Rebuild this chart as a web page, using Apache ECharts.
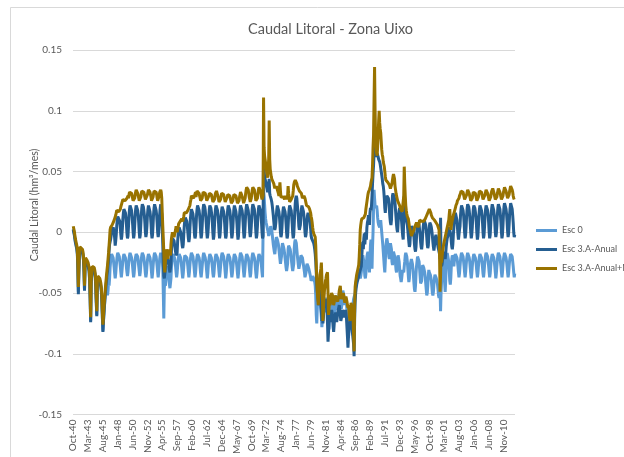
<!DOCTYPE html>
<html>
<head>
<meta charset="utf-8">
<script src="https://cdn.jsdelivr.net/npm/echarts@6/dist/echarts.min.js"></script>
<style>
  html, body { margin: 0; padding: 0; background: #fff; }
  #chart { width: 624px; height: 457px; }
</style>
</head>
<body>
<div id="chart"></div>
<script>
// monthly values from Oct-40 to Sep-12, in thousandths of hm3/mes (one hydrological year per line)
var esc0Milli = [
  3, 2, -1, -4, -7, -9, -11, -13, -17, -29, -49, -31,
  -18, -14, -13, -14, -15, -15, -16, -18, -22, -31, -47, -28,
  -23, -24, -24, -25, -26, -27, -28, -31, -39, -53, -73, -42,
  -34, -30, -29, -29, -30, -31, -33, -36, -44, -57, -68, -45,
  -38, -37, -37, -38, -40, -42, -44, -48, -57, -70, -81, -73,
  -67, -61, -55, -50, -46, -44, -46, -52, -48, -40, -44, -38,
  -29, -24, -20, -18, -18, -19, -21, -25, -29, -34, -38, -34,
  -28, -23, -19, -17, -17, -18, -20, -24, -28, -33, -37, -33,
  -28, -23, -20, -18, -18, -19, -21, -24, -29, -33, -36, -33,
  -27, -22, -19, -17, -17, -18, -21, -24, -28, -33, -37, -34,
  -28, -23, -20, -18, -17, -18, -20, -24, -28, -32, -36, -33,
  -27, -22, -19, -17, -17, -19, -21, -25, -29, -34, -37, -34,
  -28, -23, -20, -18, -18, -19, -21, -24, -28, -33, -38, -34,
  -28, -23, -19, -17, -17, -18, -20, -24, -28, -33, -37, -33,
  -27, -22, -19, -17, -17, -18, -21, -30, -50, -71, -46, -40,
  -44, -40, -34, -30, -28, -30, -33, -38, -43, -46, -42, -38,
  -29, -24, -20, -18, -18, -19, -21, -24, -28, -33, -37, -34,
  -28, -23, -20, -18, -18, -19, -21, -25, -29, -34, -38, -34,
  -28, -23, -19, -18, -18, -19, -21, -24, -28, -33, -37, -33,
  -27, -22, -19, -17, -17, -18, -20, -24, -28, -33, -37, -34,
  -28, -23, -20, -18, -18, -19, -21, -24, -29, -34, -37, -33,
  -28, -23, -19, -17, -17, -18, -21, -24, -28, -33, -38, -34,
  -27, -23, -20, -18, -18, -19, -21, -25, -29, -34, -37, -34,
  -28, -23, -20, -18, -18, -19, -21, -24, -28, -33, -37, -33,
  -28, -22, -19, -17, -17, -18, -20, -24, -28, -33, -38, -34,
  -28, -23, -20, -18, -18, -19, -21, -24, -28, -33, -37, -34,
  -29, -24, -20, -18, -18, -19, -21, -25, -29, -34, -38, -34,
  -28, -23, -19, -17, -17, -18, -20, -24, -28, -33, -37, -33,
  -28, -23, -20, -18, -18, -19, -21, -24, -28, -33, -37, -34,
  -27, -22, -19, -17, -17, -18, -21, -24, -29, -34, -38, -34,
  -28, -23, -20, -18, -18, -19, -21, -24, -28, -33, -37, -36,
  35, 30, 23, 16, 11, 8, 6, 4, 2, 0, -3, -2,
  -4, 2, 5, 4, 2, -2, -6, -10, -13, -16, -18, -14,
  -8, -4, -5, -6, -8, -10, -14, -18, -22, -26, -27, -20,
  -12, -9, -10, -12, -14, -17, -21, -25, -29, -32, -33, -26,
  -14, -11, -11, -12, -14, -17, -21, -25, -29, -32, -33, -26,
  -13, -8, -6, -5, -9, -14, -19, -23, -27, -30, -31, -26,
  -22, -19, -18, -19, -21, -24, -27, -30, -33, -37, -38, -33,
  -28, -26, -27, -28, -29, -31, -33, -35, -37, -40, -41, -38,
  -36, -37, -38, -39, -41, -44, -52, -68, -75, -62, -50, -47,
  -52, -56, -58, -60, -64, -70, -78, -72, -62, -58, -62, -66,
  -60, -56, -54, -55, -58, -62, -68, -74, -80, -72, -64, -60,
  -56, -54, -55, -58, -64, -70, -71, -66, -58, -54, -52, -56,
  -60, -64, -62, -56, -52, -50, -53, -58, -63, -60, -54, -48,
  -48, -52, -56, -60, -56, -54, -58, -64, -72, -84, -87, -76,
  -66, -64, -68, -72, -73, -68, -62, -58, -55, -54, -54, -50,
  -45, -41, -39, -37, -36, -34, -33, -34, -36, -38, -36, -33,
  -28, -22, -19, -20, -24, -30, -36, -38, -34, -26, -20, -18,
  -16, -20, -28, -33, -22, -10, -6, -18, -30, -12, 0, 20,
  35, 28, 22, 20, 21, 22, 18, 12, 8, 6, 5, 4,
  8, 10, 5, 0, -5, -10, -16, -22, -28, -33, -24, -12,
  -8, -5, -6, -10, -15, -20, -22, -16, -9, -8, -14, -24,
  -27, -20, -16, -15, -17, -21, -26, -31, -33, -28, -22, -19,
  -20, -24, -30, -36, -38, -41, -38, -34, -31, -30, -33, -28,
  -24, -19, -17, -18, -20, -24, -30, -36, -41, -38, -30, -26,
  -24, -22, -23, -26, -30, -36, -42, -47, -49, -44, -34, -28,
  -24, -20, -19, -20, -24, -30, -36, -42, -43, -40, -32, -27,
  -28, -29, -30, -33, -37, -42, -47, -52, -50, -44, -36, -31,
  -33, -34, -35, -37, -40, -45, -50, -52, -49, -43, -38, -35,
  -36, -37, -38, -40, -43, -47, -52, -54, -50, -46, -65, -49,
  -40, -30, -22, -19, -24, -34, -42, -49, -40, -28, -20, -17,
  -16, -18, -24, -32, -40, -43, -38, -28, -22, -19, -18, -21,
  -28, -23, -20, -18, -18, -19, -21, -24, -28, -33, -37, -34,
  -28, -23, -19, -17, -17, -18, -20, -24, -28, -33, -37, -33,
  -27, -22, -19, -17, -17, -18, -21, -24, -29, -34, -38, -34,
  -28, -23, -20, -18, -18, -19, -21, -24, -28, -33, -37, -34,
  -28, -23, -20, -18, -18, -19, -21, -25, -29, -34, -37, -33,
  -27, -22, -19, -17, -17, -18, -20, -24, -28, -33, -37, -34,
  -28, -23, -20, -18, -18, -19, -21, -24, -28, -33, -38, -34,
  -28, -23, -19, -17, -17, -18, -20, -24, -28, -33, -37, -33,
  -27, -22, -19, -17, -17, -18, -21, -24, -28, -33, -37, -34,
  -28, -23, -20, -18, -17, -18, -20, -24, -28, -33, -37, -34
];

var esc3aMilli = [
  2, 1, -2, -5, -8, -10, -12, -14, -18, -30, -51, -32,
  -19, -15, -14, -15, -16, -16, -17, -19, -23, -32, -48, -29,
  -24, -25, -25, -26, -27, -28, -29, -32, -40, -54, -74, -43,
  -35, -31, -30, -30, -31, -32, -34, -37, -45, -58, -69, -46,
  -39, -38, -38, -39, -41, -43, -45, -49, -58, -71, -82, -74,
  -66, -60, -54, -49, -44, -40, -36, -32, -27, -22, -16, -10,
  -9, -6, -3, 0, 2, 3, 4, 3, 0, -5, -11, -7,
  -2, 5, 10, 13, 14, 14, 12, 9, 4, -2, -6, -3,
  3, 11, 16, 19, 20, 19, 16, 12, 6, -1, -5, -3,
  5, 14, 19, 22, 22, 21, 18, 13, 7, 0, -5, -2,
  5, 13, 19, 22, 23, 22, 18, 14, 8, 0, -5, -2,
  6, 14, 20, 23, 23, 21, 18, 14, 8, 0, -4, -1,
  5, 14, 19, 22, 22, 21, 17, 13, 7, -1, -5, -2,
  6, 15, 20, 23, 24, 22, 18, 14, 8, 0, -4, -1,
  6, 15, 20, 23, 22, 15, 4, -10, -25, -36, -38, -34,
  -30, -22, -18, -17, -19, -22, -25, -28, -31, -33, -32, -26,
  -14, -8, -5, -4, -5, -7, -10, -13, -16, -19, -20, -17,
  -8, -2, 2, 4, 4, 3, 0, -3, -7, -11, -13, -10,
  -2, 5, 10, 12, 13, 12, 9, 5, 0, -5, -8, -5,
  3, 11, 16, 19, 20, 19, 15, 11, 5, -2, -5, -3,
  5, 14, 19, 22, 22, 21, 18, 14, 8, 0, -5, -2,
  5, 14, 20, 23, 23, 21, 18, 13, 7, 0, -5, -2,
  4, 13, 19, 22, 22, 20, 17, 13, 7, -1, -6, -3,
  5, 14, 19, 22, 23, 21, 18, 14, 8, 0, -5, -2,
  5, 13, 18, 21, 22, 21, 17, 13, 7, -1, -5, -3,
  5, 14, 19, 22, 22, 21, 18, 14, 8, 0, -5, -2,
  4, 13, 19, 22, 22, 21, 17, 13, 7, -1, -6, -3,
  5, 14, 19, 22, 23, 21, 18, 14, 8, 0, -5, -2,
  6, 15, 20, 23, 23, 22, 18, 14, 8, 0, -4, -1,
  5, 14, 20, 23, 24, 22, 19, 14, 8, 0, -5, -2,
  5, 14, 19, 22, 23, 21, 18, 14, 8, 0, -5, -3,
  63, 52, 46, 44, 42, 40, 37, 35, 33, 35, 40, 44,
  32, 30, 29, 27, 25, 22, 18, 14, 9, 4, 2, 4,
  8, 14, 19, 22, 22, 21, 17, 13, 7, 0, -4, -2,
  4, 13, 18, 21, 21, 20, 17, 13, 7, 0, -5, -3,
  5, 14, 19, 22, 22, 21, 18, 13, 7, -1, -5, -2,
  7, 17, 24, 28, 30, 28, 23, 18, 12, 5, 2, 4,
  6, 14, 19, 22, 22, 21, 17, 13, 7, 0, -4, -2,
  3, 10, 14, 16, 16, 15, 12, 8, 3, -3, -5, -4,
  -4, -6, -9, -11, -14, -18, -24, -33, -42, -48, -52, -56,
  -60, -52, -47, -48, -55, -65, -73, -68, -75, -70, -62, -60,
  -58, -55, -54, -56, -62, -75, -90, -82, -72, -68, -74, -70,
  -66, -64, -66, -72, -78, -82, -76, -70, -68, -66, -70, -74,
  -70, -66, -64, -62, -60, -63, -68, -73, -71, -67, -64, -65,
  -66, -68, -70, -66, -64, -66, -70, -78, -86, -95, -86, -80,
  -76, -72, -70, -72, -76, -80, -84, -88, -92, -102, -72, -58,
  -50, -46, -43, -41, -40, -38, -36, -34, -33, -31, -30, -28,
  -20, -12, -8, -14, -5, -1, -10, -3, 0, -6, 4, 8,
  10, 14, 12, 6, 16, 20, 18, 22, 30, 40, 48, 55,
  65, 76, 70, 64, 62, 63, 65, 64, 62, 60, 60, 58,
  56, 53, 50, 47, 44, 40, 38, 34, 28, 20, 16, 24,
  28, 30, 31, 30, 28, 24, 18, 12, 8, 6, 10, 22,
  30, 32, 33, 31, 28, 24, 18, 12, 6, 2, 0, 8,
  14, 18, 20, 19, 17, 13, 8, 2, -3, -6, -7, 30,
  20, 14, 12, 10, 8, 6, 2, -3, -8, -12, -10, -2,
  2, 5, 6, 5, 3, 0, -4, -10, -14, -16, -12, -4,
  4, 8, 9, 8, 6, 2, -2, -8, -12, -14, -10, -2,
  4, 8, 10, 10, 9, 6, 2, -4, -10, -13, -11, -4,
  4, 8, 8, 6, 4, 1, -3, -8, -12, -15, -14, -8,
  -4, -2, -3, -6, -9, -12, -14, -16, -18, -22, 12, -24,
  -28, -26, -22, -18, -16, -17, -20, -22, -18, -12, -8, -5,
  -6, -2, 2, 4, 5, 3, -2, -8, -12, -14, -10, -2,
  4, 10, 14, 16, 17, 15, 10, 4, -2, -6, -5, 2,
  5, 14, 19, 22, 22, 21, 18, 14, 8, 0, -5, -2,
  5, 14, 20, 23, 23, 21, 18, 13, 7, 0, -5, -2,
  4, 13, 19, 22, 22, 20, 17, 13, 7, -1, -6, -3,
  5, 14, 19, 22, 23, 21, 18, 14, 8, 0, -5, -2,
  5, 14, 19, 22, 22, 21, 18, 14, 8, 0, -5, -2,
  6, 15, 20, 23, 23, 22, 18, 14, 8, 0, -4, -1,
  5, 14, 20, 23, 24, 22, 19, 14, 8, 0, -5, -2,
  6, 15, 21, 24, 25, 23, 19, 15, 9, 1, -4, -1,
  6, 15, 20, 24, 25, 23, 19, 14, 8, 0, -4, -2
];

var esc3amMilli = [
  5, 4, 1, -2, -5, -7, -9, -11, -15, -26, -45, -28,
  -16, -12, -11, -12, -13, -13, -14, -16, -20, -28, -44, -26,
  -21, -22, -22, -23, -24, -25, -26, -29, -36, -50, -70, -40,
  -32, -28, -27, -27, -28, -29, -31, -34, -42, -54, -65, -42,
  -36, -35, -35, -36, -38, -40, -42, -46, -54, -66, -76, -70,
  -62, -56, -50, -45, -40, -35, -31, -27, -22, -17, -11, -5,
  2, 4, 5, 5, 6, 7, 8, 9, 10, 10, 11, 14,
  16, 18, 19, 19, 18, 17, 16, 17, 19, 21, 22, 24,
  25, 27, 28, 28, 27, 26, 25, 25, 26, 28, 29, 30,
  28, 31, 33, 34, 34, 33, 32, 30, 28, 26, 25, 26,
  28, 31, 33, 35, 35, 34, 32, 30, 28, 26, 25, 26,
  29, 32, 34, 35, 35, 34, 33, 31, 29, 27, 26, 27,
  28, 31, 33, 35, 36, 35, 33, 31, 29, 26, 25, 26,
  29, 32, 34, 35, 35, 34, 33, 31, 28, 26, 25, 27,
  30, 33, 34, 35, 33, 28, 16, 5, -5, -16, -28, -33,
  -25, -18, -14, -16, -20, -22, -18, -14, -15, -17, -19, -10,
  -5, -2, 0, 0, -2, -4, -5, -3, 2, 5, 3, 0,
  1, 4, 7, 8, 8, 9, 10, 10, 11, 11, 9, 10,
  13, 16, 16, 17, 17, 16, 16, 17, 18, 19, 20, 21,
  22, 25, 27, 30, 31, 30, 29, 28, 29, 30, 31, 33,
  29, 32, 34, 35, 35, 34, 32, 30, 28, 26, 25, 26,
  28, 31, 33, 34, 34, 33, 32, 30, 28, 26, 25, 26,
  27, 30, 32, 33, 33, 32, 31, 29, 27, 25, 24, 25,
  27, 30, 32, 33, 34, 33, 31, 29, 27, 25, 24, 25,
  27, 30, 32, 33, 33, 32, 31, 29, 27, 25, 24, 25,
  26, 29, 31, 32, 32, 31, 30, 28, 26, 24, 23, 24,
  26, 29, 31, 32, 32, 31, 30, 28, 26, 24, 23, 24,
  26, 29, 31, 33, 32, 31, 30, 28, 26, 24, 23, 24,
  28, 32, 35, 37, 38, 37, 35, 32, 29, 27, 25, 26,
  28, 32, 35, 37, 38, 37, 35, 32, 29, 26, 25, 26,
  28, 32, 35, 37, 37, 36, 34, 32, 29, 27, 26, 30,
  111, 70, 63, 60, 57, 53, 50, 47, 45, 46, 60, 92,
  60, 52, 49, 46, 44, 43, 42, 41, 40, 38, 36, 38,
  36, 38, 37, 35, 34, 32, 30, 36, 41, 34, 29, 28,
  29, 30, 30, 29, 28, 27, 28, 30, 29, 27, 27, 30,
  38, 32, 28, 25, 25, 26, 27, 27, 28, 30, 34, 39,
  41, 42, 43, 43, 42, 40, 38, 37, 36, 35, 34, 34,
  34, 33, 32, 30, 28, 28, 29, 30, 30, 28, 27, 24,
  22, 23, 23, 22, 21, 20, 19, 18, 16, 13, 11, 8,
  4, 1, -1, -2, 0, -4, -11, -25, -40, -49, -55, -60,
  -60, -45, -35, -33, -30, -25, -24, -50, -73, -65, -55, -48,
  -45, -40, -38, -35, -34, -33, -50, -68, -62, -55, -60, -58,
  -52, -50, -49, -52, -56, -60, -58, -54, -52, -53, -55, -56,
  -55, -57, -58, -52, -48, -46, -44, -50, -55, -53, -50, -52,
  -50, -53, -56, -58, -55, -53, -55, -57, -60, -62, -60, -65,
  -70, -73, -65, -58, -60, -62, -66, -70, -85, -98, -60, -45,
  -41, -38, -35, -33, -31, -29, -27, -20, -10, 2, 6, 9,
  11, 11, 10, 11, 12, 11, 12, 15, 19, 22, 25, 28,
  31, 33, 34, 35, 35, 38, 41, 43, 45, 55, 70, 80,
  110, 136, 100, 78, 70, 65, 63, 70, 80, 92, 100, 90,
  85, 82, 75, 68, 64, 62, 58, 56, 54, 50, 46, 43,
  43, 42, 42, 41, 41, 40, 39, 38, 36, 35, 37, 40,
  43, 46, 48, 49, 44, 38, 35, 32, 30, 28, 26, 25,
  24, 23, 22, 21, 19, 19, 18, 17, 16, 16, 30, 54,
  40, 30, 22, 18, 15, 13, 12, 11, 8, 5, 3, 1,
  -1, -3, -3, -2, 0, -1, 2, 4, 5, 6, 7, 8,
  8, 6, 4, 3, 7, 10, 11, 10, 10, 9, 9, 8,
  8, 9, 9, 10, 11, 12, 13, 14, 15, 16, 17, 18,
  19, 19, 18, 16, 14, 13, 12, 12, 11, 11, 10, 10,
  9, 8, 7, 7, 6, 6, 5, 2, -20, -49, -35, -15,
  -25, -20, -16, -13, -10, -8, -6, -4, -2, 0, 2, 4,
  6, 8, 10, 15, 19, 10, 2, 5, 8, 10, 12, 14,
  15, 17, 18, 20, 22, 23, 24, 26, 27, 27, 28, 30,
  29, 32, 34, 35, 35, 34, 33, 31, 29, 27, 26, 27,
  28, 31, 33, 35, 35, 34, 32, 30, 28, 26, 25, 26,
  28, 31, 33, 34, 34, 33, 32, 30, 28, 26, 25, 26,
  29, 32, 34, 35, 35, 34, 33, 31, 29, 27, 26, 27,
  28, 31, 33, 35, 35, 34, 32, 30, 28, 26, 25, 26,
  29, 32, 34, 35, 36, 35, 33, 31, 29, 27, 26, 27,
  29, 32, 34, 36, 36, 35, 33, 31, 29, 27, 26, 27,
  30, 33, 35, 37, 37, 36, 34, 32, 30, 28, 27, 28,
  31, 34, 36, 38, 38, 37, 35, 33, 30, 28, 27, 28
];

var seriesNames = ['Esc 0', 'Esc 3.A-Anual', 'Esc 3.A-Anual+M'];
var seriesColors = ['#5b9bd5', '#255e91', '#997300'];

// month labels Oct-40 ... Sep-12
var monthNames = ['Jan', 'Feb', 'Mar', 'Apr', 'May', 'Jun', 'Jul', 'Aug', 'Sep', 'Oct', 'Nov', 'Dec'];
var categories = [];
for (var i = 0; i < esc0Milli.length; i++) {
  var mi = (9 + i) % 12;
  var yr = 1940 + Math.floor((9 + i) / 12);
  categories.push(monthNames[mi] + '-' + String(yr % 100).padStart(2, '0'));
}

var font = 'Lato, "Noto Sans", sans-serif';
var chart = echarts.init(document.getElementById('chart'), null, { renderer: 'canvas' });

function toUnits(arr) {
  return arr.map(function (v) { return v / 1000; });
}

chart.setOption({
  animation: false,
  backgroundColor: '#fff',
  textStyle: { fontFamily: font },
  title: {
    text: 'Caudal Litoral - Zona Uixo',
    left: 243,
    top: 17,
    textStyle: { fontSize: 14.5, fontWeight: 'normal', color: '#595959', fontFamily: font }
  },
  grid: { left: 73, right: 109, top: 50, bottom: 40 },
  legend: {
    orient: 'vertical',
    left: 531,
    top: 220,
    icon: 'rect',
    itemWidth: 21,
    itemHeight: 3,
    itemGap: 8,
    textStyle: { fontSize: 9, color: '#595959', fontFamily: font, lineHeight: 11 },
    data: seriesNames
  },
  xAxis: {
    type: 'category',
    data: categories,
    boundaryGap: true,
    axisTick: { show: false },
    axisLine: { lineStyle: { color: '#d9d9d9', width: 1 } },
    axisLabel: {
      interval: 28,
      rotate: 90,
      fontSize: 10,
      color: '#595959',
      margin: 5,
      fontFamily: font
    },
    splitLine: { show: false }
  },
  yAxis: {
    type: 'value',
    min: -0.15,
    max: 0.15,
    interval: 0.05,
    axisLine: { show: false },
    axisTick: { show: false },
    axisLabel: { fontSize: 10, color: '#595959', margin: 11, fontFamily: font },
    splitLine: { lineStyle: { color: '#d9d9d9', width: 1 } }
  },
  graphic: [
    {
      type: 'rect',
      shape: { x: 10.5, y: 7.5, width: 700, height: 600 },
      style: { fill: 'none', stroke: '#d9d9d9', lineWidth: 1 },
      silent: true
    },
    {
      type: 'text',
      x: 35,
      y: 205,
      rotation: Math.PI / 2,
      style: {
        text: 'Caudal Litoral (hm³/mes)',
        fontSize: 10.5,
        fill: '#595959',
        fontFamily: font,
        textAlign: 'center',
        textVerticalAlign: 'middle'
      }
    }
  ],
  series: [
    {
      name: seriesNames[0],
      type: 'line',
      data: toUnits(esc0Milli),
      showSymbol: false,
      color: seriesColors[0],
      lineStyle: { width: 3, color: seriesColors[0] }
    },
    {
      name: seriesNames[1],
      type: 'line',
      data: toUnits(esc3aMilli),
      showSymbol: false,
      color: seriesColors[1],
      lineStyle: { width: 3, color: seriesColors[1] }
    },
    {
      name: seriesNames[2],
      type: 'line',
      data: toUnits(esc3amMilli),
      showSymbol: false,
      color: seriesColors[2],
      lineStyle: { width: 3, color: seriesColors[2] }
    }
  ]
});
</script>
</body>
</html>
